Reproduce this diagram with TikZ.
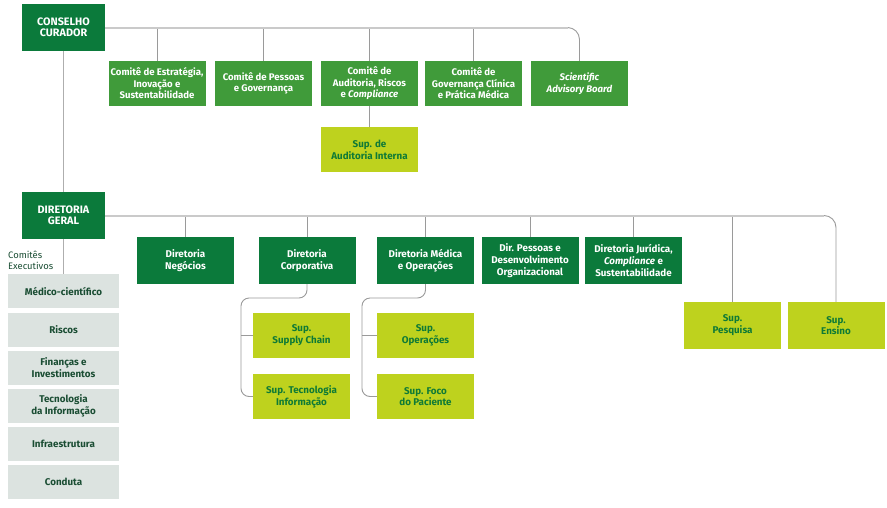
\documentclass[tikz,border=0pt]{standalone}
\usepackage{fontspec}
\setmainfont{Fira Sans}
\usetikzlibrary{calc}
\definecolor{dgreen}{HTML}{0B7A3B}
\definecolor{mgreen}{HTML}{409B3A}
\definecolor{lime}{HTML}{BED21E}
\definecolor{greybox}{HTML}{DCE3E0}
\definecolor{greytext}{HTML}{1A4D33}
\definecolor{limetext}{HTML}{0F7A36}
\definecolor{hlinec}{HTML}{CACACA}
\definecolor{vlinec}{HTML}{9A9A9A}
\tikzset{
  boxbase/.style={rectangle, inner sep=0pt, align=center, minimum width=97pt, minimum height=45pt},
  topbox/.style={boxbase, fill=dgreen, text=white, minimum width=83pt, minimum height=47pt, font=\bfseries\fontsize{10.8}{11.5}\selectfont},
  dirbox/.style={boxbase, fill=dgreen, text=white, minimum height=47pt, font=\bfseries\fontsize{9.8}{12}\selectfont},
  combox/.style={boxbase, fill=mgreen, text=white, font=\bfseries\fontsize{9.6}{11.5}\selectfont},
  supbox/.style={boxbase, fill=lime, text=limetext, font=\bfseries\fontsize{9.8}{11.8}\selectfont},
  exbox/.style={boxbase, fill=greybox, text=greytext, minimum width=111pt, minimum height=34pt, font=\bfseries\fontsize{9.8}{12}\selectfont},
  hline/.style={draw=hlinec, line width=2pt},
  vline/.style={draw=vlinec, line width=0.9pt},
  trunk/.style={draw=vlinec!80, line width=1.4pt},
}
\begin{document}
\begin{tikzpicture}[x=1pt,y=-1pt]
\useasboundingbox (0,0) rectangle (887,507);
% top level
\node[topbox] (cc) at (63.5,27.5) {CONSELHO\\CURADOR};
\node[topbox] (dg) at (63.5,215.5) {DIRETORIA\\GERAL};
% committees
\node[combox] (c1) at (157,83.5) {Comitê de Estratégia,\\Inovação e\\Sustentabilidade};
\node[combox] (c2) at (263.5,83.5) {Comitê de Pessoas\\e Governança};
\node[combox] (c3) at (369.5,83.5) {Comitê de\\Auditoria, Riscos\\e \textit{Compliance}};
\node[combox] (c4) at (473.5,83.5) {Comitê de\\Governança Clínica\\e Prática Médica};
\node[combox] (c5) at (579.5,83.5) {\textit{Scientific}\\\textit{Advisory Board}};
\node[supbox] (au) at (369.5,149.5) {Sup. de\\Auditoria Interna};
% directorates
\node[dirbox] (n1) at (185.5,260.5) {Diretoria\\Negócios};
\node[dirbox] (n2) at (307,260.5) {Diretoria\\Corporativa};
\node[dirbox] (n3) at (425.5,260.5) {Diretoria Médica\\e Operações};
\node[dirbox] (n4) at (530,260.5) {Dir. Pessoas e\\Desenvolvimento\\Organizacional};
\node[dirbox] (n5) at (633.5,260.5) {Diretoria Jurídica,\\\textit{Compliance} e\\Sustentabilidade};
\node[supbox, minimum height=47pt] (p1) at (732.5,325.5) {Sup.\\Pesquisa};
\node[supbox, minimum height=47pt] (p2) at (836,325.5) {Sup.\\Ensino};
% sub units
\node[supbox] (s1) at (301.5,335.5) {Sup.\\Supply Chain};
\node[supbox] (s2) at (301.5,396.5) {Sup. Tecnologia\\Informação};
\node[supbox] (o1) at (425.5,335.5) {Sup.\\Operações};
\node[supbox] (o2) at (425.5,396.5) {Sup. Foco\\do Paciente};
% executive committees
\node[anchor=north west, inner sep=0pt, align=left, text=greytext, font=\fontsize{9.4}{10.7}\selectfont] (ce) at (8,251) {Comitês\\Executivos};
\node[exbox] (m1) at (63.5,291) {Médico-científico};
\node[exbox] (m2) at (63.5,330) {Riscos};
\node[exbox] (m3) at (63.5,368) {Finanças e\\Investimentos};
\node[exbox] (m4) at (63.5,406) {Tecnologia\\da Informação};
\node[exbox] (m5) at (63.5,444) {Infraestrutura};
\node[exbox] (m6) at (63.5,482) {Conduta};
% coordinates
\coordinate (ta) at ($(c5.north |- cc.east)+(-12,0)$);
\coordinate (tb) at ($(p2.north |- dg.east)+(-12,0)$);
\coordinate (kc) at (241,298);
\coordinate (km) at (362,298);
% connectors
\draw[trunk] (cc.south) -- (dg.north);
\draw[trunk] (dg.south) -- (m1.north);
\foreach \n in {c1,c2,c3,c4} \draw[vline] (\n.north) -- (\n.north |- cc.east);
\draw[vline] (c3.south) -- (au.north);
\draw[vline, rounded corners=12pt] (ta) -- (c5.north |- cc.east) -- (c5.north);
\draw[hline] (cc.east) -- (ta);
\foreach \n in {n1,n2,n3,n4,n5,p1} \draw[vline] (\n.north) -- (\n.north |- dg.east);
\draw[vline, rounded corners=12pt] (tb) -- (p2.north |- dg.east) -- (p2.north);
\draw[hline] (dg.east) -- (tb);
\draw[vline, rounded corners=8pt] (n2.south) |- (kc) |- (s2.west);
\draw[vline] (s1.west) -- (s1.west -| kc);
\draw[vline, rounded corners=8pt] (n3.south) |- (km) |- (o2.west);
\draw[vline] (o1.west) -- (o1.west -| km);
\end{tikzpicture}
\end{document}
